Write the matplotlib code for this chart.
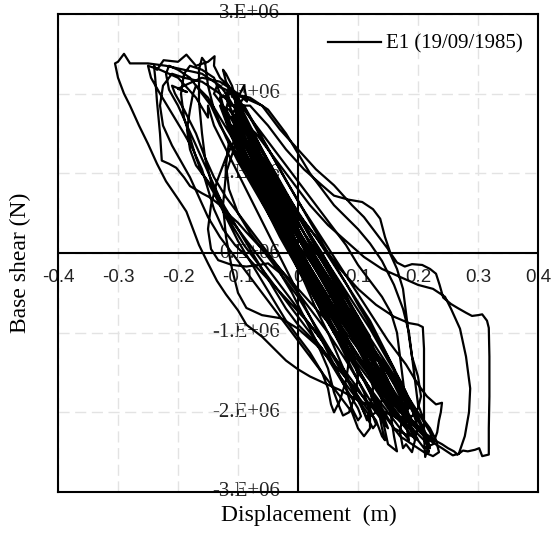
import matplotlib.pyplot as plt

# Curva de histéresis: (desplazamiento [m], cortante basal [MN])
ciclos_iniciales = [
    (0.00, 0.20), (0.02, 0.05), (0.04, -0.20), (0.06, -0.50), (0.05, -0.55), (0.03, -0.30),
    (0.01, -0.05), (-0.02, 0.40), (-0.04, 0.70), (-0.05, 0.85), (-0.04, 0.85), (-0.02, 0.60),
    (0.01, 0.25), (0.04, -0.10), (0.07, -0.50), (0.09, -0.80), (0.10, -1.00), (0.09, -1.05),
    (0.07, -0.85), (0.04, -0.45), (0.01, -0.10), (-0.02, 0.30), (-0.05, 0.75), (-0.07, 1.05),
    (-0.08, 1.25), (-0.07, 1.30), (-0.05, 1.10), (-0.02, 0.70), (0.01, 0.35), (0.04, 0.00),
    (0.07, -0.40), (0.10, -0.80), (0.12, -1.10), (0.14, -1.45), (0.15, -1.60), (0.14, -1.65),
    (0.11, -1.40), (0.08, -1.10), (0.05, -0.75), (0.02, -0.35), (-0.01, 0.05), (-0.04, 0.45),
    (-0.07, 0.90), (-0.09, 1.25), (-0.10, 1.50), (-0.11, 1.70), (-0.10, 1.75), (-0.08, 1.55),
    (-0.05, 1.15), (-0.02, 0.75), (0.01, 0.35), (0.04, -0.05), (0.07, -0.45), (0.10, -0.85),
    (0.13, -1.25), (0.16, -1.65), (0.18, -1.95), (0.19, -2.15), (0.18, -2.20), (0.15, -1.95),
    (0.12, -1.60), (0.09, -1.30), (0.06, -0.95), (0.03, -0.55), (0.00, -0.10), (-0.03, 0.35),
    (-0.06, 0.80), (-0.09, 1.20), (-0.11, 1.55), (-0.12, 1.80), (-0.115, 1.95),
]

excursion_izquierda = [
    (-0.13, 2.10), (-0.16, 2.25), (-0.19, 2.30), (-0.22, 2.35), (-0.25, 2.38), (-0.28, 2.38),
    (-0.29, 2.50), (-0.30, 2.40), (-0.305, 2.38), (-0.30, 2.20), (-0.29, 2.00), (-0.28, 1.85),
    (-0.265, 1.60), (-0.25, 1.37), (-0.235, 1.12), (-0.22, 0.90), (-0.20, 0.68), (-0.186, 0.52),
    (-0.175, 0.30), (-0.165, 0.10), (-0.15, -0.13), (-0.135, -0.35), (-0.12, -0.52), (-0.10, -0.72),
    (-0.086, -0.90), (-0.06, -1.05), (-0.04, -1.20), (-0.02, -1.35), (0.00, -1.46), (0.02, -1.55),
    (0.043, -1.63), (0.07, -1.72), (0.10, -1.85), (0.13, -1.95), (0.16, -2.05), (0.19, -2.20),
    (0.21, -2.35), (0.22, -2.45), (0.215, -2.30), (0.20, -2.05), (0.18, -1.80), (0.15, -1.45),
    (0.12, -1.15), (0.09, -0.85), (0.06, -0.50), (0.03, -0.15), (0.00, 0.20), (-0.03, 0.60),
    (-0.06, 1.00), (-0.09, 1.45), (-0.10, 1.70), (-0.095, 1.85),
]

picos_superiores = [
    (-0.11, 2.05), (-0.13, 2.20), (-0.14, 2.35), (-0.139, 2.47), (-0.15, 2.40), (-0.17, 2.35),
    (-0.186, 2.49), (-0.20, 2.40), (-0.224, 2.42), (-0.235, 2.30), (-0.24, 2.35), (-0.238, 2.20),
    (-0.235, 1.90), (-0.23, 1.50), (-0.227, 1.16), (-0.215, 1.12), (-0.203, 1.07), (-0.19, 0.95),
    (-0.18, 0.84), (-0.16, 0.75), (-0.145, 0.69), (-0.13, 0.60), (-0.121, 0.52), (-0.10, 0.38),
    (-0.086, 0.26), (-0.06, 0.05), (-0.03, -0.20), (0.00, -0.45), (0.03, -0.70), (0.06, -0.95),
    (0.09, -1.25), (0.12, -1.55), (0.15, -1.85), (0.17, -2.10), (0.19, -2.30), (0.20, -2.35),
    (0.19, -2.20), (0.17, -1.90), (0.14, -1.55), (0.11, -1.20), (0.08, -0.85), (0.05, -0.45),
    (0.02, -0.05), (-0.01, 0.35), (-0.04, 0.80), (-0.07, 1.25), (-0.09, 1.60), (-0.10, 1.95),
    (-0.09, 2.10), (-0.085, 1.90),
]

lazo_superior = [
    (-0.10, 2.00), (-0.13, 2.15), (-0.16, 2.20), (-0.19, 2.10), (-0.20, 2.06), (-0.185, 2.02),
    (-0.21, 2.10), (-0.205, 2.00), (-0.19, 1.80), (-0.17, 1.50), (-0.155, 1.20), (-0.14, 0.95),
    (-0.12, 0.70), (-0.10, 0.50), (-0.07, 0.20), (-0.04, -0.10), (-0.01, -0.40), (0.02, -0.70),
    (0.05, -1.00), (0.08, -1.35), (0.10, -1.60), (0.12, -1.85), (0.14, -2.05), (0.15, -2.40),
    (0.165, -2.49), (0.16, -2.30), (0.155, -2.05), (0.15, -1.85), (0.13, -1.55), (0.10, -1.15),
    (0.07, -0.75), (0.04, -0.35), (0.01, 0.05), (-0.02, 0.50), (-0.05, 0.95), (-0.08, 1.40),
    (-0.10, 1.75), (-0.12, 2.00), (-0.115, 1.85),
]

lazo_derecho_exterior = [
    (-0.08, 1.85), (-0.05, 1.60), (-0.02, 1.30), (0.01, 1.05), (0.04, 0.85), (0.06, 0.72),
    (0.084, 0.67), (0.107, 0.64), (0.125, 0.55), (0.137, 0.43), (0.145, 0.20), (0.154, 0.00),
    (0.165, -0.12), (0.178, -0.17), (0.19, -0.14), (0.207, -0.15), (0.22, -0.20), (0.23, -0.26),
    (0.236, -0.40), (0.242, -0.56), (0.255, -0.64), (0.266, -0.69), (0.28, -0.75), (0.29, -0.79),
    (0.30, -0.78), (0.307, -0.77), (0.315, -0.85), (0.318, -0.94), (0.319, -1.30), (0.319, -1.80),
    (0.318, -2.20), (0.318, -2.53), (0.307, -2.55), (0.302, -2.45), (0.295, -2.47), (0.283, -2.49),
    (0.275, -2.48), (0.266, -2.53), (0.26, -2.49), (0.25, -2.45), (0.24, -2.40), (0.23, -2.36),
    (0.215, -2.28), (0.207, -2.23), (0.19, -2.10), (0.17, -1.85), (0.14, -1.50), (0.11, -1.15),
    (0.08, -0.80), (0.05, -0.45), (0.02, -0.05), (-0.01, 0.35), (-0.04, 0.75), (-0.07, 1.15),
    (-0.09, 1.50), (-0.10, 1.70),
]

lazo_derecho_interior = [
    (-0.07, 1.50), (-0.04, 1.20), (-0.01, 0.90), (0.02, 0.60), (0.05, 0.35), (0.08, 0.15),
    (0.11, -0.05), (0.14, -0.20), (0.17, -0.30), (0.20, -0.40), (0.225, -0.45), (0.245, -0.55),
    (0.255, -0.70), (0.27, -0.95), (0.28, -1.30), (0.287, -1.70), (0.285, -2.00), (0.278, -2.30),
    (0.268, -2.52), (0.258, -2.54), (0.24, -2.45), (0.225, -2.38), (0.21, -2.30), (0.19, -2.15),
    (0.16, -1.90), (0.13, -1.60), (0.10, -1.30), (0.07, -0.95), (0.04, -0.60), (0.01, -0.20),
    (-0.02, 0.25), (-0.05, 0.70), (-0.08, 1.15), (-0.10, 1.45), (-0.11, 1.60),
]

caida_vertical = [
    (-0.08, 1.35), (-0.05, 1.05), (-0.02, 0.75), (0.01, 0.40), (0.04, 0.10), (0.07, -0.20),
    (0.10, -0.45), (0.13, -0.65), (0.16, -0.80), (0.185, -0.88), (0.20, -0.90), (0.208, -0.93),
    (0.21, -1.20), (0.21, -1.60), (0.21, -2.00), (0.21, -2.30), (0.212, -2.56), (0.216, -2.45),
    (0.218, -2.50), (0.212, -2.30), (0.20, -2.10), (0.18, -1.85), (0.15, -1.50), (0.12, -1.15),
    (0.09, -0.80), (0.06, -0.45), (0.03, -0.10), (0.00, 0.30), (-0.03, 0.70), (-0.06, 1.10),
    (-0.08, 1.40), (-0.095, 1.70), (-0.09, 1.85),
]

lazo_con_pico = [
    (-0.06, 1.45), (-0.03, 1.05), (0.00, 0.65), (0.03, 0.30), (0.06, -0.05), (0.09, -0.40),
    (0.12, -0.75), (0.15, -1.10), (0.18, -1.40), (0.20, -1.65), (0.215, -1.80), (0.23, -1.90),
    (0.24, -1.88), (0.238, -2.00), (0.235, -2.10), (0.232, -2.25), (0.225, -2.40), (0.21, -2.45),
    (0.195, -2.30), (0.17, -2.05), (0.14, -1.75), (0.11, -1.40), (0.08, -1.05), (0.05, -0.70),
    (0.02, -0.35), (-0.01, 0.05), (-0.04, 0.50), (-0.07, 0.95), (-0.09, 1.30), (-0.10, 1.50),
]

lazos_inferiores = [
    (-0.12, 1.20), (-0.135, 0.90), (-0.145, 0.60), (-0.15, 0.30), (-0.145, 0.05), (-0.133, -0.09),
    (-0.11, -0.15), (-0.086, -0.17), (-0.065, -0.15), (-0.05, -0.13), (-0.03, -0.25), (-0.01, -0.50),
    (0.01, -0.80), (0.03, -1.10), (0.05, -1.45), (0.06, -1.75), (0.07, -1.95), (0.075, -2.04),
    (0.085, -2.00), (0.095, -1.80), (0.10, -1.55), (0.09, -1.20), (0.07, -0.90), (0.04, -0.55),
    (0.01, -0.20), (-0.02, 0.20), (-0.05, 0.60), (-0.08, 1.00), (-0.10, 1.30), (-0.105, 1.35),
    (-0.12, 1.00), (-0.125, 0.60), (-0.12, 0.20), (-0.11, -0.20), (-0.10, -0.50), (-0.086, -0.69),
    (-0.06, -0.78), (-0.028, -0.82), (0.00, -0.95), (0.03, -1.15), (0.06, -1.40), (0.09, -1.65),
    (0.12, -1.90), (0.14, -2.10), (0.15, -2.20), (0.14, -2.00), (0.12, -1.70), (0.09, -1.35),
    (0.06, -1.00), (0.03, -0.60), (0.00, -0.20), (-0.03, 0.20), (-0.06, 0.65), (-0.09, 1.10),
    (-0.11, 1.45), (-0.12, 1.65),
]

ciclos_finales = [
    (-0.10, 1.50), (-0.07, 1.10), (-0.04, 0.70), (-0.01, 0.30), (0.02, -0.05), (0.05, -0.40),
    (0.08, -0.75), (0.11, -1.10), (0.13, -1.35), (0.12, -1.40), (0.10, -1.20), (0.07, -0.90),
    (0.04, -0.50), (0.01, -0.15), (-0.02, 0.25), (-0.05, 0.65), (-0.07, 0.95), (-0.06, 1.00),
    (-0.04, 0.80), (-0.01, 0.40), (0.02, 0.05), (0.05, -0.30), (0.08, -0.65), (0.11, -1.00),
    (0.14, -1.40), (0.17, -1.75), (0.185, -1.95), (0.175, -2.00), (0.15, -1.75), (0.12, -1.40),
    (0.09, -1.05), (0.06, -0.70), (0.03, -0.35), (0.00, 0.05), (-0.03, 0.45), (-0.06, 0.90),
    (-0.085, 1.30), (-0.10, 1.60), (-0.105, 1.80), (-0.09, 1.70), (-0.06, 1.30), (-0.03, 0.90),
    (0.00, 0.50), (0.03, 0.10), (0.06, -0.25), (0.09, -0.60), (0.12, -0.95), (0.15, -1.35),
    (0.17, -1.60), (0.19, -1.90), (0.20, -2.10), (0.19, -2.15), (0.16, -1.85), (0.13, -1.50),
    (0.10, -1.15), (0.07, -0.80), (0.04, -0.45), (0.01, -0.05), (-0.02, 0.40), (-0.05, 0.85),
    (-0.08, 1.30), (-0.10, 1.60), (-0.12, 1.95), (-0.115, 2.05), (-0.10, 1.85), (-0.07, 1.40),
    (-0.04, 1.00), (-0.01, 0.60), (0.02, 0.20), (0.05, -0.20), (0.08, -0.55), (0.11, -0.95),
    (0.14, -1.30), (0.17, -1.65), (0.20, -2.00), (0.22, -2.25), (0.225, -2.35), (0.21, -2.30),
    (0.18, -2.00), (0.15, -1.65), (0.12, -1.30), (0.09, -0.95), (0.06, -0.60), (0.03, -0.20),
    (0.00, 0.20), (-0.03, 0.65), (-0.06, 1.05), (-0.08, 1.35), (-0.075, 1.40), (-0.05, 1.05),
    (-0.02, 0.65), (0.01, 0.25), (0.04, -0.10), (0.07, -0.45), (0.10, -0.80), (0.12, -1.05),
    (0.11, -1.10), (0.08, -0.80), (0.05, -0.45), (0.02, -0.10), (0.00, 0.10),
]

ciclos_anchos_1 = [
    (-0.03, 0.50), (-0.06, 0.95), (-0.09, 1.40), (-0.12, 1.80), (-0.14, 2.00), (-0.135, 2.10),
    (-0.12, 2.05), (-0.10, 1.95), (-0.08, 1.70), (-0.06, 1.43), (-0.04, 1.18), (-0.02, 0.91),
    (0.00, 0.66), (0.02, 0.39), (0.04, 0.13), (0.06, -0.13), (0.08, -0.38), (0.10, -0.65),
    (0.12, -0.90), (0.14, -1.17), (0.16, -1.45), (0.18, -1.75), (0.19, -1.95), (0.20, -2.20),
    (0.195, -2.30), (0.18, -2.28), (0.16, -2.20), (0.14, -1.95), (0.12, -1.71), (0.10, -1.45),
    (0.08, -1.19), (0.06, -0.93), (0.04, -0.67), (0.02, -0.40), (0.00, -0.15), (-0.02, 0.10),
    (-0.04, 0.37), (-0.06, 0.63), (-0.08, 0.89), (-0.10, 1.15), (-0.12, 1.45), (-0.14, 1.80),
    (-0.15, 2.10), (-0.155, 2.40), (-0.16, 2.45), (-0.165, 2.30), (-0.165, 1.90), (-0.16, 1.50),
    (-0.155, 1.20), (-0.145, 0.90), (-0.13, 0.65), (-0.11, 0.40), (-0.09, 0.20), (-0.07, 0.00),
    (-0.05, -0.20), (-0.02, -0.50), (0.01, -0.80), (0.04, -1.10), (0.07, -1.40), (0.10, -1.70),
    (0.12, -1.95), (0.13, -2.15), (0.125, -2.20), (0.11, -2.00), (0.09, -1.70), (0.07, -1.35),
    (0.05, -1.00), (0.03, -0.70), (0.01, -0.35), (-0.01, -0.05), (-0.03, 0.25), (-0.05, 0.55),
    (-0.07, 0.85), (-0.09, 1.15), (-0.11, 1.50), (-0.125, 1.80), (-0.13, 1.95),
]

ciclos_anchos_2 = [
    (-0.11, 2.00), (-0.08, 1.95), (-0.05, 1.80), (-0.02, 1.50), (0.00, 1.25), (0.02, 1.00),
    (0.04, 0.80), (0.06, 0.60), (0.08, 0.45), (0.10, 0.30), (0.12, 0.12), (0.14, -0.10),
    (0.16, -0.40), (0.175, -0.70), (0.185, -1.00), (0.19, -1.30), (0.195, -1.60), (0.20, -1.90),
    (0.21, -2.10), (0.22, -2.20), (0.23, -2.35), (0.235, -2.50), (0.225, -2.55), (0.21, -2.50),
    (0.19, -2.40), (0.17, -2.30), (0.15, -2.10), (0.13, -1.90), (0.11, -1.60), (0.09, -1.35),
    (0.07, -1.10), (0.05, -0.85), (0.03, -0.55), (0.01, -0.30), (-0.01, 0.00), (-0.03, 0.30),
    (-0.05, 0.60), (-0.07, 0.85), (-0.09, 1.10), (-0.11, 1.35), (-0.13, 1.60), (-0.145, 1.85),
]

ciclos_anchos_3 = [
    (-0.16, 2.00), (-0.18, 2.20), (-0.20, 2.30), (-0.215, 2.35), (-0.22, 2.25), (-0.215, 2.05),
    (-0.20, 1.85), (-0.185, 1.60), (-0.17, 1.35), (-0.155, 1.10), (-0.14, 0.85), (-0.125, 0.60),
    (-0.11, 0.35), (-0.09, 0.10), (-0.07, -0.10), (-0.05, -0.30), (-0.03, -0.50), (-0.01, -0.70),
    (0.01, -0.90), (0.03, -1.10), (0.05, -1.30), (0.07, -1.55), (0.09, -1.75), (0.11, -1.95),
    (0.12, -2.05), (0.13, -2.00), (0.14, -1.85), (0.13, -1.60), (0.11, -1.35), (0.09, -1.05),
    (0.07, -0.75), (0.05, -0.45), (0.03, -0.15), (0.01, 0.15), (-0.01, 0.45), (-0.03, 0.75),
    (-0.05, 1.05), (-0.07, 1.35), (-0.09, 1.65), (-0.10, 1.85), (-0.11, 2.10), (-0.12, 2.25),
    (-0.125, 2.30), (-0.12, 2.15),
]

ciclos_anchos_4 = [
    (-0.10, 1.90), (-0.07, 1.60), (-0.04, 1.30), (-0.01, 1.00), (0.02, 0.70), (0.05, 0.40),
    (0.08, 0.10), (0.10, -0.15), (0.12, -0.35), (0.14, -0.55), (0.155, -0.75), (0.165, -1.00),
    (0.17, -1.30), (0.175, -1.60), (0.18, -1.90), (0.185, -2.05), (0.175, -2.10), (0.16, -2.00),
    (0.14, -1.80), (0.12, -1.55), (0.10, -1.30), (0.08, -1.05), (0.06, -0.80), (0.04, -0.55),
    (0.02, -0.30), (0.00, -0.05), (-0.02, 0.20), (-0.04, 0.45), (-0.06, 0.70), (-0.08, 0.95),
    (-0.10, 1.20), (-0.115, 1.40),
]

ciclos_anchos_5 = [
    (-0.12, 1.10), (-0.115, 0.80), (-0.10, 0.50), (-0.08, 0.25), (-0.06, 0.05), (-0.04, -0.15),
    (-0.02, -0.35), (0.00, -0.55), (0.02, -0.80), (0.04, -1.05), (0.06, -1.30), (0.08, -1.55),
    (0.10, -1.80), (0.11, -2.00), (0.115, -2.10), (0.12, -1.95), (0.125, -1.70), (0.12, -1.40),
    (0.10, -1.10), (0.08, -0.85), (0.06, -0.60), (0.04, -0.30), (0.02, -0.05), (0.00, 0.25),
    (-0.02, 0.55), (-0.04, 0.85), (-0.06, 1.15), (-0.08, 1.45), (-0.10, 1.70), (-0.105, 1.90),
    (-0.09, 1.75), (-0.07, 1.45), (-0.05, 1.15), (-0.03, 0.85), (-0.01, 0.55), (0.01, 0.25),
    (0.03, -0.05), (0.05, -0.30), (0.07, -0.55), (0.09, -0.80), (0.11, -1.05), (0.13, -1.30),
    (0.15, -1.60), (0.17, -1.90), (0.18, -2.15), (0.185, -2.35), (0.18, -2.30), (0.165, -2.15),
    (0.145, -1.95), (0.125, -1.75), (0.10, -1.50), (0.08, -1.25), (0.06, -1.00), (0.04, -0.75),
    (0.02, -0.45), (0.00, -0.15), (-0.02, 0.15), (-0.04, 0.45), (-0.06, 0.75), (-0.08, 1.05),
    (-0.10, 1.35), (-0.12, 1.70), (-0.13, 2.00), (-0.14, 2.20),
]

ciclos_anchos_6 = [
    (-0.16, 2.30), (-0.18, 2.35), (-0.19, 2.25), (-0.195, 2.00), (-0.19, 1.70), (-0.18, 1.45),
    (-0.17, 1.20), (-0.16, 1.00), (-0.14, 0.80), (-0.12, 0.55), (-0.10, 0.30), (-0.08, 0.05),
    (-0.06, -0.20), (-0.04, -0.45), (-0.02, -0.70), (0.00, -0.90), (0.02, -1.05), (0.04, -1.20),
    (0.06, -1.45), (0.08, -1.70), (0.10, -1.95), (0.105, -2.05), (0.10, -2.10), (0.09, -1.95),
    (0.08, -1.70), (0.06, -1.40), (0.04, -1.10), (0.02, -0.80), (0.00, -0.50), (-0.02, -0.20),
    (-0.04, 0.10), (-0.06, 0.40), (-0.08, 0.70), (-0.10, 1.00), (-0.12, 1.30), (-0.14, 1.60),
    (-0.15, 1.85), (-0.15, 1.70),
]

ciclos_extra_1 = [
    (-0.17, 1.95), (-0.20, 2.20), (-0.23, 2.30), (-0.25, 2.35), (-0.245, 2.20), (-0.23, 2.00),
    (-0.21, 1.75), (-0.19, 1.50), (-0.175, 1.30), (-0.16, 1.05), (-0.15, 0.80), (-0.14, 0.55),
    (-0.125, 0.30), (-0.105, 0.10), (-0.085, -0.05), (-0.06, -0.25), (-0.035, -0.45), (-0.01, -0.65),
    (0.02, -0.90), (0.05, -1.20), (0.07, -1.45), (0.09, -1.70), (0.11, -1.90), (0.13, -2.10),
    (0.14, -2.30), (0.145, -2.35), (0.14, -2.20), (0.135, -2.00), (0.12, -1.75), (0.10, -1.45),
    (0.08, -1.15), (0.06, -0.85), (0.04, -0.55), (0.02, -0.25), (0.00, 0.05), (-0.02, 0.35),
    (-0.04, 0.65), (-0.06, 0.95), (-0.08, 1.25), (-0.10, 1.55), (-0.11, 1.75), (-0.09, 1.95),
    (-0.06, 1.85), (-0.03, 1.55), (0.00, 1.30), (0.03, 1.05), (0.06, 0.85), (0.09, 0.60),
    (0.11, 0.45), (0.13, 0.25), (0.15, 0.05), (0.165, -0.20), (0.175, -0.45), (0.18, -0.75),
    (0.185, -1.05), (0.19, -1.30), (0.20, -1.55), (0.205, -1.80), (0.20, -1.95), (0.19, -2.05),
    (0.17, -2.00), (0.15, -1.80), (0.13, -1.55), (0.11, -1.30), (0.09, -1.05), (0.07, -0.80),
    (0.05, -0.55), (0.03, -0.30), (0.01, -0.05), (-0.01, 0.20), (-0.03, 0.45), (-0.05, 0.70),
    (-0.07, 0.95), (-0.09, 1.20), (-0.11, 1.45), (-0.13, 1.70), (-0.15, 1.95), (-0.17, 2.10),
    (-0.175, 2.00),
]

ciclos_extra_2 = [
    (-0.18, 1.80), (-0.185, 1.55), (-0.18, 1.30), (-0.17, 1.10), (-0.155, 0.95), (-0.14, 0.75),
    (-0.12, 0.45), (-0.10, 0.15), (-0.08, -0.10), (-0.06, -0.35), (-0.04, -0.60), (-0.02, -0.85),
    (0.00, -1.05), (0.02, -1.25), (0.04, -1.50), (0.05, -1.70), (0.055, -1.90), (0.06, -2.00),
    (0.07, -1.85), (0.08, -1.60), (0.085, -1.35), (0.08, -1.10), (0.06, -0.85), (0.04, -0.55),
    (0.02, -0.30), (0.00, 0.00), (-0.02, 0.30), (-0.04, 0.55), (-0.06, 0.85), (-0.08, 1.15),
    (-0.10, 1.40), (-0.12, 1.65), (-0.13, 1.85), (-0.115, 1.80), (-0.09, 1.55), (-0.06, 1.20),
    (-0.03, 0.85), (0.00, 0.50), (0.03, 0.20), (0.06, -0.15), (0.09, -0.50), (0.12, -0.85),
    (0.14, -1.15), (0.16, -1.45), (0.17, -1.75), (0.175, -2.00), (0.17, -2.25), (0.175, -2.45),
    (0.18, -2.40), (0.19, -2.50), (0.195, -2.35), (0.185, -2.15), (0.17, -1.95), (0.15, -1.70),
    (0.13, -1.45), (0.11, -1.20), (0.09, -0.95), (0.07, -0.70), (0.05, -0.45), (0.03, -0.20),
    (0.01, 0.10), (-0.01, 0.40), (-0.03, 0.70), (-0.05, 1.00), (-0.07, 1.30), (-0.09, 1.60),
    (-0.10, 1.80),
]

ciclos_extra_3 = [
    (-0.13, 2.00), (-0.16, 2.15), (-0.19, 2.20), (-0.21, 2.25), (-0.225, 2.10), (-0.23, 1.85),
    (-0.225, 1.60), (-0.21, 1.35), (-0.195, 1.15), (-0.18, 0.95), (-0.165, 0.70), (-0.15, 0.45),
    (-0.13, 0.20), (-0.11, 0.00), (-0.09, -0.20), (-0.07, -0.40), (-0.05, -0.60), (-0.03, -0.80),
    (-0.01, -1.00), (0.01, -1.20), (0.03, -1.40), (0.05, -1.60), (0.07, -1.80), (0.09, -2.00),
    (0.10, -2.20), (0.11, -2.30), (0.12, -2.20), (0.12, -2.00), (0.11, -1.75), (0.09, -1.45),
    (0.07, -1.15), (0.05, -0.85), (0.03, -0.55), (0.01, -0.25), (-0.01, 0.05), (-0.03, 0.35),
    (-0.05, 0.65), (-0.07, 0.95), (-0.09, 1.25), (-0.10, 1.50), (-0.11, 1.70),
]

tramos = [ciclos_iniciales, excursion_izquierda, picos_superiores, lazo_superior,
          lazo_derecho_exterior, lazo_derecho_interior, caida_vertical, lazo_con_pico,
          lazos_inferiores, ciclos_finales, ciclos_anchos_1, ciclos_anchos_2,
          ciclos_anchos_3, ciclos_anchos_4, ciclos_anchos_5, ciclos_anchos_6,
          ciclos_extra_1, ciclos_extra_2, ciclos_extra_3]

x_ticks = [-0.4, -0.3, -0.2, -0.1, 0.0, 0.1, 0.2, 0.3, 0.4]
x_labels = ["-0.4", "-0.3", "-0.2", "-0.1", "0", "0.1", "0.2", "0.3", "0.4"]
y_ticks = [3e6, 2e6, 1e6, 0.0, -1e6, -2e6, -3e6]
y_labels = ["3.E+06", "2.E+06", "1.E+06", "0.E+06", "-1.E+06", "-2.E+06", "-3.E+06"]

desplazamiento = []
cortante = []
for tramo in tramos:
    for d, v in tramo:
        desplazamiento.append(d)
        cortante.append(v * 1e6)

fig = plt.figure(figsize=(5.51, 5.36), dpi=100)
ax = fig.add_axes([58 / 551, 1 - 492 / 536, 480 / 551, 478 / 536])

ax.plot(desplazamiento, cortante, color="black", linewidth=1.6, zorder=3,
        solid_joinstyle="round", label="E1 (19/09/1985)")

ax.set_xlim(-0.4, 0.4)
ax.set_ylim(-3e6, 3e6)
ax.set_xticks(x_ticks)
ax.set_yticks(y_ticks)
ax.set_xticklabels([])
ax.set_yticklabels([])
ax.tick_params(length=0)
ax.grid(True, color="#e3e3e3", linestyle=(0, (8, 4)), linewidth=1.0, zorder=0)
for s in ax.spines.values():
    s.set_linewidth(1.5)
ax.axhline(0, color="black", linewidth=1.5, zorder=2)
ax.axvline(0, color="black", linewidth=1.5, zorder=2)

# etiquetas junto a los ejes centrales
for xv, lab in zip(x_ticks, x_labels):
    ax.annotate(lab, xy=(xv, 0), xytext=(0, -17.5), textcoords="offset points",
                ha="center", va="center", fontsize=13.5, family="Liberation Sans",
                color="#222222", zorder=1, annotation_clip=False)
for yv, lab in zip(y_ticks, y_labels):
    ax.annotate(lab, xy=(0, yv), xytext=(-13, 0), textcoords="offset points",
                ha="right", va="center", fontsize=15, family="Liberation Serif",
                color="#222222", zorder=1, annotation_clip=False)

fig.text(309 / 551, 1 - 515 / 536, "Displacement  (m)", ha="center", va="center",
         fontsize=17, family="Liberation Serif")
fig.text(20 / 551, 1 - 263 / 536, "Base shear (N)", ha="center", va="center",
         rotation=90, fontsize=17, family="Liberation Serif")

ax.legend(loc="upper right", bbox_to_anchor=(0.985, 0.975), frameon=False,
          prop={"family": "Liberation Serif", "size": 15}, handlelength=2.5,
          handletextpad=0.25, borderaxespad=0.0)

fig.savefig("out.png", dpi=100)
